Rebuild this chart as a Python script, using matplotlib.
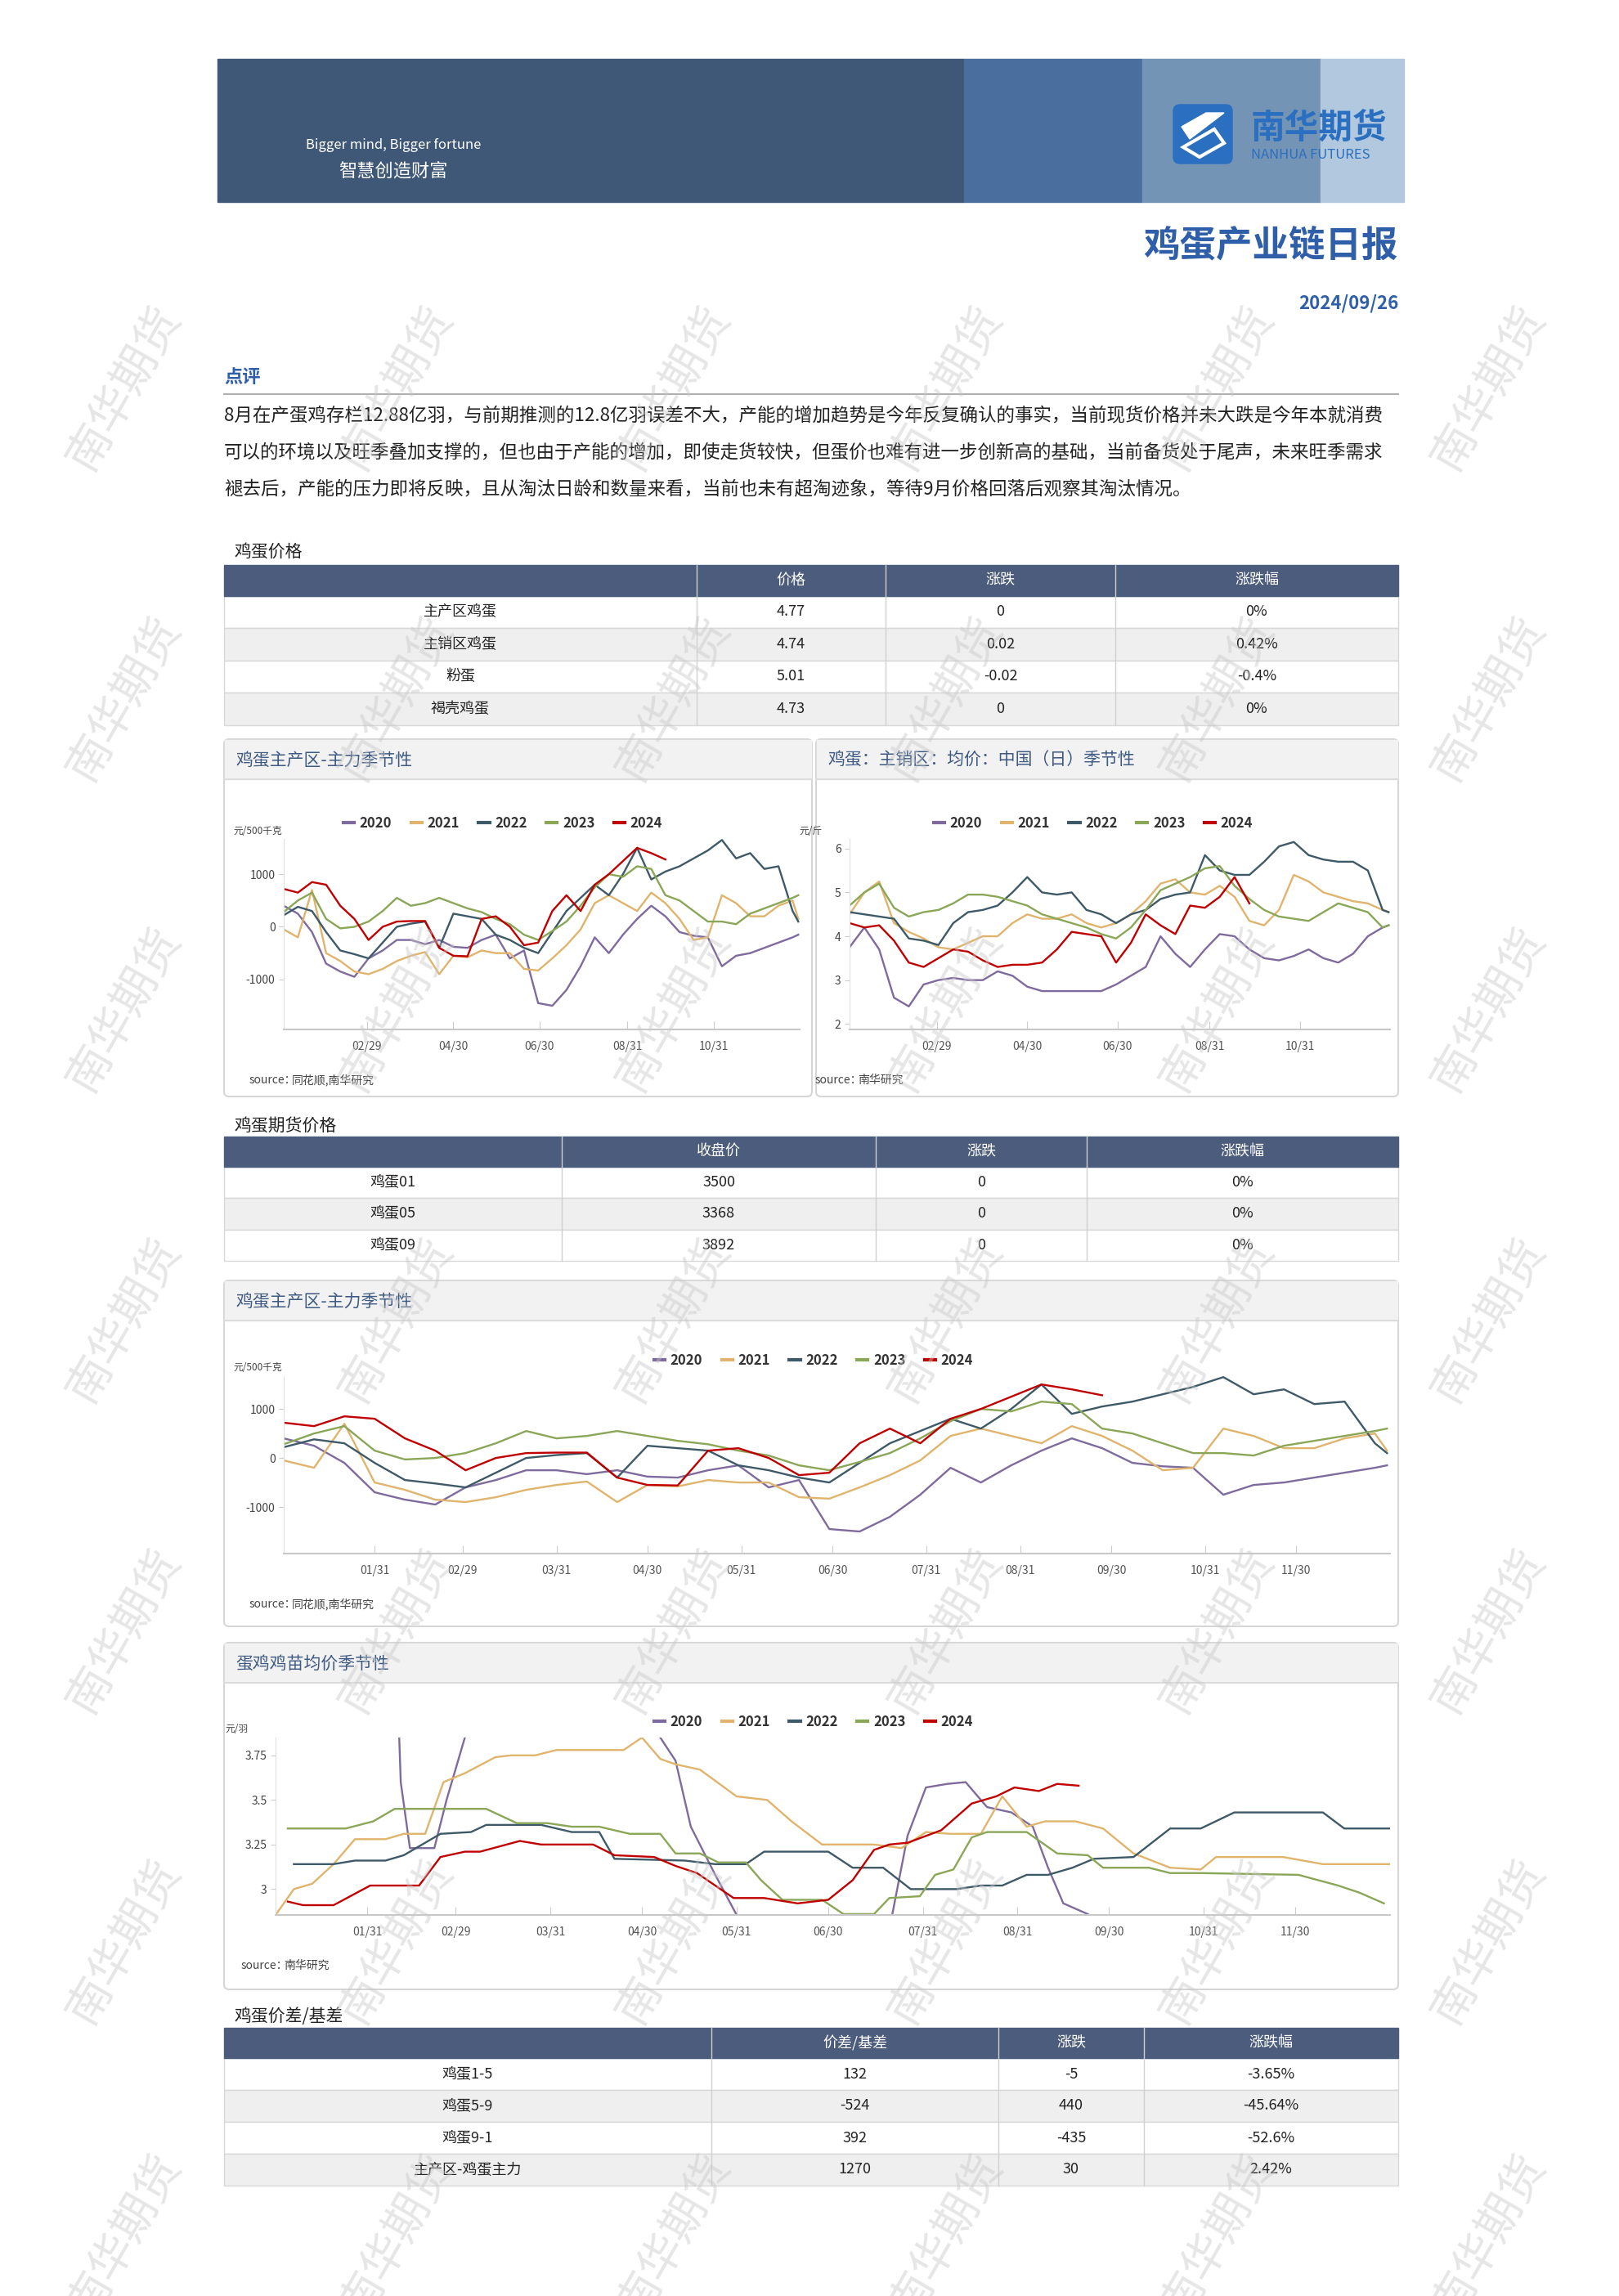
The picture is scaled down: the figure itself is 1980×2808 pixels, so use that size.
import matplotlib
matplotlib.use("Agg")
import matplotlib.pyplot as plt
from matplotlib.patches import Rectangle, FancyBboxPatch, Polygon
from matplotlib.lines import Line2D

plt.rcParams['font.family'] = ['Noto Sans CJK SC', 'DejaVu Sans']

W, H = 1980, 2808

years = ["2020", "2021", "2022", "2023", "2024"]
year_colors = ["#7f6a9e", "#e0b46c", "#3e5967", "#8aa657", "#c00000"]

# ---- 鸡蛋主产区-主力季节性 (元/500千克), sampled every 10 days ----
basis_days = [0, 10, 20, 30, 40, 50, 60, 70, 80, 90, 100, 110, 120, 130, 140, 150, 160, 170, 180,
              190, 200, 210, 220, 230, 240, 250, 260, 270, 280, 290, 300, 310, 320, 330, 340, 350, 360, 364]
basis_2020 = [400, 250, -100, -700, -850, -950, -600, -450, -250, -250, -330, -250, -380, -400, -250, -150,
              -600, -450, -1450, -1500, -1200, -750, -200, -500, -150, 150, 400, 200, -100, -170, -200,
              -750, -550, -500, -400, -300, -200, -150]
basis_2021 = [-50, -200, 700, -500, -650, -850, -900, -800, -650, -550, -480, -900, -550, -580, -450, -500,
              -500, -800, -830, -600, -350, -50, 450, 600, 450, 300, 650, 450, 150, -250, -200, 600, 450,
              200, 200, 400, 500, 150]
basis_2022 = [220, 380, 300, -100, -450, -520, -600, -300, 0, 60, 100, -400, 250, 200, 150, -150, -250,
              -400, -500, -100, 300, 550, 800, 600, 1000, 1500, 900, 1050, 1150, 1300, 1450, 1650, 1300,
              1400, 1100, 1150, 300, 100]
basis_2023 = [280, 500, 650, 150, -30, 0, 100, 300, 550, 400, 450, 550, 450, 350, 280, 150, 50, -150,
              -250, -80, 100, 400, 750, 1000, 950, 1150, 1100, 600, 500, 300, 100, 100, 50, 250, 350, 450,
              550, 600]
basis_2024 = [720, 650, 850, 800, 400, 150, -250, 0, 100, 110, 110, -400, -550, -560, 150, 200, 0, -350,
              -300, 300, 600, 300, 800, 1000, 1250, 1500, 1400, 1280]

# ---- 鸡蛋:主销区:均价 (元/斤) ----
spot_2020 = [3.75, 4.2, 3.7, 2.6, 2.4, 2.9, 3.0, 3.05, 3.0, 3.0, 3.2, 3.1, 2.85, 2.75, 2.75, 2.75, 2.75,
             2.75, 2.9, 3.1, 3.3, 4.0, 3.6, 3.3, 3.7, 4.05, 4.0, 3.7, 3.5, 3.45, 3.55, 3.7, 3.5, 3.4, 3.6,
             4.0, 4.2, 4.25]
spot_2021 = [4.5, 5.0, 5.25, 4.3, 4.1, 3.95, 3.75, 3.7, 3.85, 4.0, 4.0, 4.3, 4.5, 4.4, 4.4, 4.5, 4.3, 4.2,
             4.3, 4.5, 4.8, 5.2, 5.3, 5.0, 4.95, 5.15, 4.9, 4.35, 4.25, 4.6, 5.4, 5.25, 5.0, 4.9, 4.8, 4.75,
             4.6, 4.55]
spot_2022 = [4.55, 4.5, 4.45, 4.4, 3.95, 3.9, 3.8, 4.3, 4.55, 4.6, 4.7, 5.0, 5.35, 5.0, 4.95, 5.0, 4.6,
             4.5, 4.3, 4.5, 4.6, 4.85, 4.95, 5.0, 5.85, 5.5, 5.4, 5.4, 5.7, 6.05, 6.15, 5.85, 5.75, 5.7,
             5.7, 5.5, 4.6, 4.55]
spot_2023 = [4.7, 5.0, 5.2, 4.65, 4.45, 4.55, 4.6, 4.75, 4.95, 4.95, 4.9, 4.8, 4.7, 4.5, 4.4, 4.3, 4.2,
             4.05, 3.95, 4.2, 4.6, 5.05, 5.2, 5.35, 5.55, 5.6, 5.15, 4.85, 4.6, 4.45, 4.4, 4.35, 4.55, 4.75,
             4.65, 4.55, 4.2, 4.25]
spot_2024 = [4.3, 4.2, 4.25, 3.9, 3.4, 3.3, 3.5, 3.7, 3.65, 3.45, 3.3, 3.35, 3.35, 3.4, 3.7, 4.1, 4.05,
             4.0, 3.4, 3.85, 4.5, 4.25, 4.05, 4.7, 4.65, 4.9, 5.35, 4.75]

# ---- 蛋鸡鸡苗均价 (元/羽) ----
chick_days_2020 = [0, 39, 41, 44, 52, 56, 62, 66, 120, 126, 131, 136, 144, 151, 155, 198, 202, 207, 213,
                   220, 226, 233, 241, 248, 253, 258, 266]
chick_2020 = [4.6, 4.6, 3.6, 3.23, 3.23, 3.5, 3.85, 4.3, 4.3, 3.85, 3.72, 3.35, 3.08, 2.855, 2.5, 2.5,
              2.86, 3.3, 3.57, 3.59, 3.6, 3.46, 3.43, 3.35, 3.12, 2.92, 2.86]
chick_days_2021 = [0, 6, 12, 19, 26, 36, 42, 49, 55, 62, 72, 77, 85, 92, 114, 120, 126, 131, 139, 151,
                   161, 169, 179, 196, 205, 213, 221, 231, 238, 246, 252, 262, 271, 281, 293, 303, 308,
                   330, 343, 365]
chick_2021 = [2.855, 3.0, 3.03, 3.14, 3.28, 3.28, 3.31, 3.31, 3.6, 3.65, 3.74, 3.75, 3.75, 3.78, 3.78,
              3.85, 3.73, 3.7, 3.67, 3.52, 3.5, 3.38, 3.25, 3.25, 3.23, 3.32, 3.31, 3.31, 3.52, 3.35,
              3.38, 3.38, 3.34, 3.2, 3.12, 3.11, 3.18, 3.18, 3.14, 3.14]
chick_days_2022 = [6, 19, 26, 36, 42, 54, 64, 69, 87, 97, 106, 111, 134, 144, 154, 160, 181, 189, 199,
                   208, 223, 231, 238, 246, 253, 261, 268, 281, 293, 303, 314, 343, 350, 365]
chick_2022 = [3.14, 3.14, 3.16, 3.16, 3.19, 3.31, 3.32, 3.36, 3.36, 3.32, 3.32, 3.17, 3.16, 3.14, 3.14,
              3.21, 3.21, 3.12, 3.12, 3.0, 3.0, 3.02, 3.02, 3.08, 3.08, 3.12, 3.17, 3.18, 3.34, 3.34,
              3.43, 3.43, 3.34, 3.34]
chick_days_2023 = [4, 23, 32, 39, 69, 79, 89, 97, 106, 116, 126, 131, 139, 145, 154, 159, 166, 179, 186,
                   196, 201, 211, 216, 222, 228, 233, 246, 256, 266, 271, 286, 293, 303, 335, 348, 355, 363]
chick_2023 = [3.34, 3.34, 3.38, 3.45, 3.45, 3.37, 3.37, 3.35, 3.35, 3.31, 3.31, 3.2, 3.2, 3.15, 3.15,
              3.05, 2.94, 2.94, 2.86, 2.86, 2.95, 2.96, 3.08, 3.11, 3.29, 3.32, 3.32, 3.2, 3.19, 3.12,
              3.12, 3.09, 3.09, 3.08, 3.02, 2.98, 2.92]
chick_days_2024 = [4, 9, 19, 31, 47, 54, 62, 67, 80, 87, 104, 111, 124, 131, 138, 150, 160, 171, 181,
                   189, 196, 201, 207, 218, 228, 236, 242, 250, 256, 263]
chick_2024 = [2.93, 2.91, 2.91, 3.02, 3.02, 3.18, 3.21, 3.21, 3.27, 3.25, 3.25, 3.19, 3.18, 3.13, 3.09,
              2.95, 2.95, 2.92, 2.94, 3.05, 3.22, 3.25, 3.26, 3.33, 3.48, 3.52, 3.57, 3.55, 3.59, 3.58]

month_end_days = [30, 59, 90, 120, 151, 181, 212, 243, 273, 304, 334]
month_end_labels = ["01/31", "02/29", "03/31", "04/30", "05/31", "06/30", "07/31", "08/31", "09/30",
                    "10/31", "11/30"]
short_days = [59, 120, 181, 243, 304]
short_labels = ["02/29", "04/30", "06/30", "08/31", "10/31"]

table1_names = ["主产区鸡蛋", "主销区鸡蛋", "粉蛋", "褐壳鸡蛋"]
table1_price = ["4.77", "4.74", "5.01", "4.73"]
table1_chg = ["0", "0.02", "-0.02", "0"]
table1_pct = ["0%", "0.42%", "-0.4%", "0%"]

table2_names = ["鸡蛋01", "鸡蛋05", "鸡蛋09"]
table2_close = ["3500", "3368", "3892"]
table2_chg = ["0", "0", "0"]
table2_pct = ["0%", "0%", "0%"]

table3_names = ["鸡蛋1-5", "鸡蛋5-9", "鸡蛋9-1", "主产区-鸡蛋主力"]
table3_spread = ["132", "-524", "392", "1270"]
table3_chg = ["-5", "440", "-435", "30"]
table3_pct = ["-3.65%", "-45.64%", "-52.6%", "2.42%"]

comment_lines = [
    "8月在产蛋鸡存栏12.88亿羽，与前期推测的12.8亿羽误差不大，产能的增加趋势是今年反复确认的事实，当前现货价格并未大跌是今年本就消费",
    "可以的环境以及旺季叠加支撑的，但也由于产能的增加，即使走货较快，但蛋价也难有进一步创新高的基础，当前备货处于尾声，未来旺季需求",
    "褪去后，产能的压力即将反映，且从淘汰日龄和数量来看，当前也未有超淘迹象，等待9月价格回落后观察其淘汰情况。",
]

fig = plt.figure(figsize=(W / 100, H / 100), dpi=100)
bg = fig.add_axes([0, 0, 1, 1])
bg.set_xlim(0, W)
bg.set_ylim(H, 0)
bg.axis("off")

HEAD = "#4b5c7c"
BLUE = "#2f5fa8"
TXT = "#222222"
XR = 1710  # right edge of content

# banner
bg.add_patch(Rectangle((266, 72), 913, 175, color="#3f5878"))
bg.add_patch(Rectangle((1179, 72), 218, 175, color="#4a6f9e"))
bg.add_patch(Rectangle((1397, 72), 218, 175, color="#7494b6"))
bg.add_patch(Rectangle((1615, 72), 102, 175, color="#b1c8de"))
bg.text(481, 178, "Bigger mind, Bigger fortune", color="white", fontsize=12, ha="center", va="center")
bg.text(481, 209, "智慧创造财富", color="white", fontsize=16, ha="center", va="center")
bg.add_patch(FancyBboxPatch((1435, 128), 72, 72, boxstyle="round,pad=0,rounding_size=8", color="#2a6fc0"))
bg.add_patch(Polygon([(1445, 155), (1475, 138), (1497, 138), (1455, 170)], color="white"))
bg.add_patch(Polygon([(1447, 180), (1485, 158), (1497, 175), (1467, 192)], color="white", fill=False, lw=3))
bg.text(1530, 157, "南华期货", color="#2a6fc0", fontsize=30, fontweight="bold", va="center")
bg.text(1530, 190, "NANHUA FUTURES", color="#2a6fc0", fontsize=12, va="center")

bg.text(XR, 300, "鸡蛋产业链日报", color=BLUE, fontsize=32, fontweight="bold", ha="right", va="center")
bg.text(XR, 371, "2024/09/26", color=BLUE, fontsize=16, fontweight="bold", ha="right", va="center")

bg.text(274, 461, "点评", color=BLUE, fontsize=16, fontweight="bold", va="center")
bg.plot([274, XR], [482, 482], color="#b0b0b0", lw=1.5)
for i, line in enumerate(comment_lines):
    bg.text(274, 508 + 45 * i, line, color=TXT, fontsize=16.2, va="center")


def draw_table(title, ty, top, col_x, headers, columns, row_h):
    bg.text(286, ty, title, color=TXT, fontsize=15, va="center")
    x0, x1 = 274, XR
    hh = row_h - 2
    bg.add_patch(Rectangle((x0, top), x1 - x0, hh, color=HEAD))
    edges = [x0] + col_x + [x1]
    for k, h in enumerate(headers):
        bg.text((edges[k + 1] + edges[k + 2]) / 2, top + hh / 2, h, color="white", fontsize=13,
                ha="center", va="center")
    for c in col_x:
        bg.plot([c, c], [top, top + hh + row_h * len(columns[0])], color="#d0d0d0", lw=1)
    for r in range(len(columns[0])):
        y = top + hh + r * row_h
        bg.add_patch(Rectangle((x0, y), x1 - x0, row_h, facecolor="white" if r % 2 == 0 else "#efefef",
                               edgecolor="#d8d8d8", lw=1, zorder=0))
        for k, col in enumerate(columns):
            bg.text((edges[k] + edges[k + 1]) / 2, y + row_h / 2, col[r], color=TXT, fontsize=13,
                    ha="center", va="center")


draw_table("鸡蛋价格", 675, 691, [852, 1083, 1364], ["价格", "涨跌", "涨跌幅"],
           [table1_names, table1_price, table1_chg, table1_pct], 39.5)
draw_table("鸡蛋期货价格", 1377, 1390, [687, 1071, 1329], ["收盘价", "涨跌", "涨跌幅"],
           [table2_names, table2_close, table2_chg, table2_pct], 38.5)
draw_table("鸡蛋价差/基差", 2466, 2480, [870, 1221, 1399], ["价差/基差", "涨跌", "涨跌幅"],
           [table3_names, table3_spread, table3_chg, table3_pct], 39)


def panel(x0, x1, y0, y1, title):
    bg.add_patch(FancyBboxPatch((x0, y0), x1 - x0, y1 - y0, boxstyle="round,pad=0,rounding_size=6",
                                facecolor="white", edgecolor="#d6d6d6", lw=1.5, zorder=0))
    bg.add_patch(Rectangle((x0 + 1, y0 + 1), x1 - x0 - 2, 48, color="#f2f2f2", zorder=0.5))
    bg.plot([x0, x1], [y0 + 49, y0 + 49], color="#dcdcdc", lw=1.5)
    bg.text(x0 + 14, y0 + 26, title, color="#3e5a82", fontsize=15, va="center")


def chart(ax_box, series, ylim, yticks, yticklabels, xticks, xlabels, unit, src, leg_y, leg_x):
    x0, x1, y0, y1 = ax_box
    ax = fig.add_axes([x0 / W, 1 - y1 / H, (x1 - x0) / W, (y1 - y0) / H])
    for (d, v), c in zip(series, year_colors):
        ax.plot(d, v, color=c, lw=1.7)
    ax.set_xlim(0, 365)
    ax.set_ylim(*ylim)
    ax.set_yticks(yticks)
    ax.set_yticklabels(yticklabels)
    ax.set_xticks(xticks)
    ax.set_xticklabels(xlabels)
    for s in ["top", "right"]:
        ax.spines[s].set_visible(False)
    ax.spines["left"].set_color("#e0e0e0")
    ax.spines["bottom"].set_color("#c8c8c8")
    ax.spines["bottom"].set_linewidth(1.5)
    ax.tick_params(axis="x", direction="in", length=7, color="#cccccc", labelsize=10,
                   labelcolor="#555555", pad=10)
    ax.tick_params(axis="y", length=4, color="#cccccc", labelsize=10, labelcolor="#444444")
    bg.text(x0 - 62, y0 - 10, unit, fontsize=8.5, color="#444444", va="center")
    bg.text(x0 - 42, y1 + 62, "source：", fontsize=10, color="#444444", va="center")
    bg.text(x0 + 10, y1 + 62, src, fontsize=10, color="#444444", va="center", style="italic")
    handles = [Line2D([], [], color=c, lw=3) for c in year_colors]
    fig.legend(handles, years, loc="center", bbox_to_anchor=(leg_x / W, 1 - leg_y / H), ncol=5,
               frameon=False, handlelength=0.8, columnspacing=1.4, handletextpad=0.4,
               prop={"size": 12, "weight": "bold"}, labelcolor="#333333")
    return ax


basis_series = [(basis_days[:len(v)], v) for v in [basis_2020, basis_2021, basis_2022, basis_2023, basis_2024]]
spot_series = [(basis_days[:len(v)], v) for v in [spot_2020, spot_2021, spot_2022, spot_2023, spot_2024]]
chick_series = [(chick_days_2020, chick_2020), (chick_days_2021, chick_2021), (chick_days_2022, chick_2022),
                (chick_days_2023, chick_2023), (chick_days_2024, chick_2024)]

panel(274, 993, 904, 1341, "鸡蛋主产区-主力季节性")
panel(998, XR, 904, 1341, "鸡蛋：主销区：均价：中国（日）季节性")
panel(274, XR, 1566, 1989, "鸡蛋主产区-主力季节性")
panel(274, XR, 2009, 2433, "蛋鸡鸡苗均价季节性")

chart((347, 978, 1026, 1259), basis_series, (-1950, 1670), [-1000, 0, 1000], ["-1000", "0", "1000"],
      short_days, short_labels, "元/500千克", "同花顺,南华研究", 1007, 615)
chart((1039, 1700, 1026, 1259), spot_series, (1.875, 6.22), [2, 3, 4, 5, 6], ["2", "3", "4", "5", "6"],
      short_days, short_labels, "元/斤", "南华研究", 1007, 1337)
chart((347, 1700, 1683, 1900), basis_series, (-1950, 1670), [-1000, 0, 1000], ["-1000", "0", "1000"],
      month_end_days, month_end_labels, "元/500千克", "同花顺,南华研究", 1664, 995)
chart((337, 1700, 2125, 2342), chick_series, (2.855, 3.85), [3, 3.25, 3.5, 3.75], ["3", "3.25", "3.5", "3.75"],
      month_end_days, month_end_labels, "元/羽", "南华研究", 2106, 995)

# watermark
for wy in [475, 855, 1235, 1615, 1995, 2375, 2735]:
    for wx in [153, 486, 825, 1158, 1490, 1822]:
        fig.text(wx / W, 1 - wy / H, "南华期货", fontsize=40, color="#c8c8c8", alpha=0.45,
                 rotation=60, ha="center", va="center", zorder=10)

fig.savefig("out.png", dpi=100)
